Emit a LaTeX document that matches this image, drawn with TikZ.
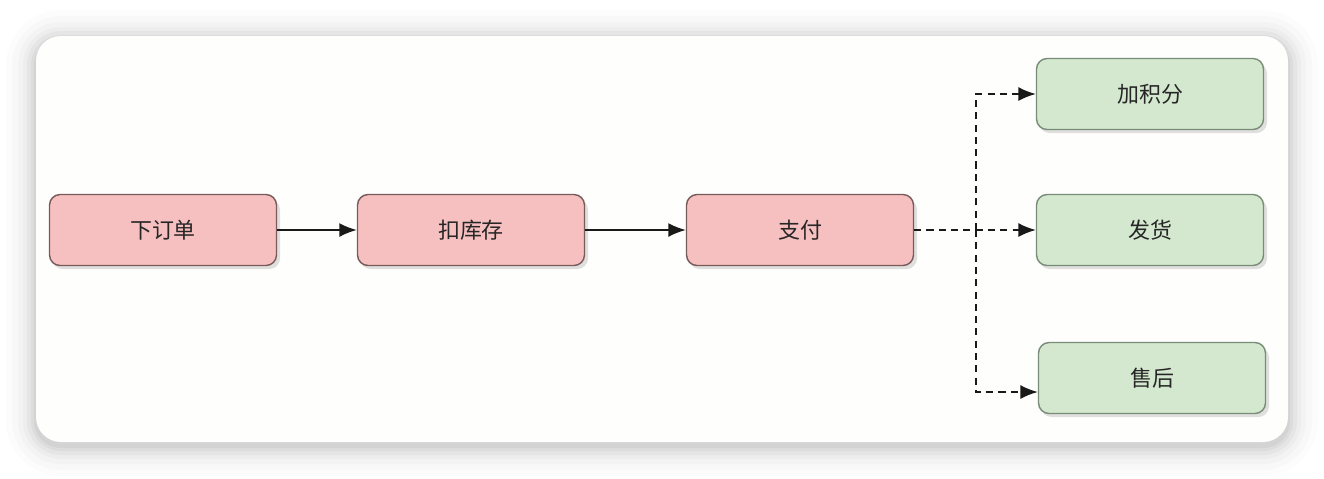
\documentclass[tikz,border=0pt]{standalone}
\usepackage{fontspec}
\newfontfamily\cjk{Noto Sans CJK SC}
\usetikzlibrary{arrows.meta,calc}
\definecolor{pinkfill}{RGB}{247,192,192}
\definecolor{pinkdraw}{RGB}{120,90,90}
\definecolor{greenfill}{RGB}{212,232,207}
\definecolor{greendraw}{RGB}{120,140,120}
\definecolor{cardfill}{RGB}{254,254,253}
\tikzset{
  px/.style={x=0.02cm,y=-0.02cm},
  box/.style={rounded corners=6pt,minimum width=4.54cm,minimum height=1.42cm,font=\cjk\fontsize{12.5}{14}\selectfont,text=black!85,line width=0.8pt,inner sep=0pt},
  redbox/.style={box,fill=pinkfill,draw=pinkdraw},
  greenbox/.style={box,fill=greenfill,draw=greendraw},
  boxshadow/.style={rounded corners=6pt,fill=black,opacity=0.12},
  solidarrow/.style={-{Latex[length=10pt,width=8pt]},line width=1pt,draw=black!90},
  dasharrow/.style={-{Latex[length=10pt,width=8pt]},line width=0.9pt,draw=black!90,dash pattern=on 4pt off 3pt},
}
\begin{document}
\begin{tikzpicture}[px]
\useasboundingbox (0,0) rectangle (1324,478);
\fill[white] (0,0) rectangle (1324,478);
% card shadow
\foreach \d/\o in {30/0.012,24/0.015,18/0.02,13/0.025,9/0.03,5/0.035,2/0.04}{
  \fill[black,opacity=\o,rounded corners=\the\numexpr 25+\d\relax*0.02cm]
    (36-\d,40-\d) rectangle (1288+\d,446+\d);
}
\fill[cardfill,rounded corners=0.5cm] (36,36) rectangle (1288,442);
% box shadows
\foreach \cx/\cy in {163/230,471/230,800/230,1150/94,1150/230,1152/378}{
  \fill[boxshadow] (\cx-111,\cy-31) rectangle (\cx+117,\cy+39);
}
\node[redbox] (a) at (163,230) {下订单};
\node[redbox] (b) at (471,230) {扣库存};
\node[redbox] (c) at (800,230) {支付};
\node[greenbox] (d) at (1150,94) {加积分};
\node[greenbox] (e) at (1150,230) {发货};
\node[greenbox] (f) at (1152,378) {售后};
\draw[solidarrow] (a) -- (b);
\draw[solidarrow] (b) -- (c);
\coordinate (j) at (976,230);
\coordinate (ft) at ($(f.west)+(0,14)$);
\draw[dasharrow] (c) -- (e);
\draw[dasharrow] (j) |- (d.west);
\draw[dasharrow] (j) |- (ft);
\end{tikzpicture}
\end{document}
